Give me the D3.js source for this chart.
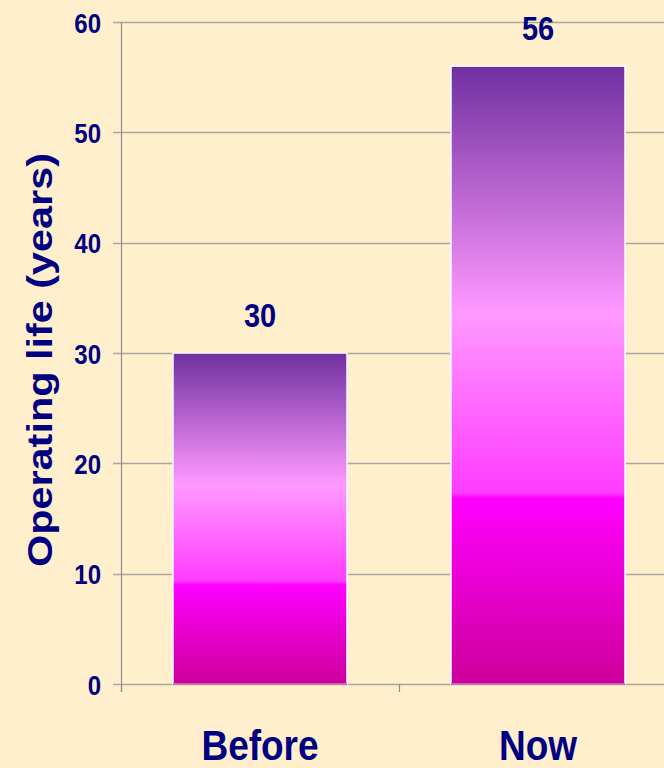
<!DOCTYPE html>
<html>
<head>
<meta charset="utf-8">
<script src="https://cdn.jsdelivr.net/npm/d3@7/dist/d3.min.js"></script>
<style>
  html, body { margin: 0; padding: 0; background: #FFEFCC; }
  svg { display: block; }
  text { font-family: "Liberation Sans", Arial, sans-serif; font-weight: bold; fill: #000080; }
</style>
</head>
<body>
<svg id="chart" width="664" height="768"></svg>
<script>
const categories = ["Before", "Now"];
const values = [30, 56];
const yTicks = [0, 10, 20, 30, 40, 50, 60];
const yTitle = "Operating life (years)";

const W = 664, H = 768;
const svg = d3.select("#chart");
svg.append("rect").attr("width", W).attr("height", H).attr("fill", "#FFEFCC");

const x = d3.scaleBand().domain(categories).range([121, 677]).padding(0);
const y = d3.scaleLinear().domain([0, 60]).range([684, 22]);
const sy = 1.16;

const defs = svg.append("defs");
const grad = defs.append("linearGradient").attr("id", "barGrad")
  .attr("x1", 0).attr("y1", 0).attr("x2", 0).attr("y2", 1);
[[0, "#7030A0"], [0.4, "#FF99FF"], [0.69, "#FF3CFF"], [0.70, "#FF00FF"], [1, "#CC0099"]]
  .forEach(([o, c]) => grad.append("stop").attr("offset", o).attr("stop-color", c));

// gridlines
svg.append("g").selectAll("line").data(yTicks).join("line")
  .attr("x1", 113).attr("x2", W)
  .attr("y1", d => Math.round(y(d)) + 0.5).attr("y2", d => Math.round(y(d)) + 0.5)
  .attr("stroke", "#ABA69C").attr("stroke-width", 1.5);

// y axis line
svg.append("line").attr("x1", 121.5).attr("x2", 121.5).attr("y1", y(60)).attr("y2", 692)
  .attr("stroke", "#8F8F8F").attr("stroke-width", 1.2);

// x ticks
svg.append("g").selectAll("line").data([121, 399, 677]).join("line")
  .attr("x1", d => d + 0.5).attr("x2", d => d + 0.5).attr("y1", y(0)).attr("y2", 692)
  .attr("stroke", "#8F8F8F").attr("stroke-width", 1.2);

// y tick labels
svg.append("g").selectAll("text").data(yTicks).join("text")
  .attr("transform", d => `translate(101,${y(d) + 10.5}) scale(1,${sy})`)
  .attr("text-anchor", "end").attr("font-size", 24)
  .text(d => d);

// bars
const bw = x.bandwidth() * 0.626;
const data = categories.map((c, i) => ({ c, v: values[i] }));
svg.append("g").selectAll("rect").data(data).join("rect")
  .attr("x", d => x(d.c) + x.bandwidth() / 2 - bw / 2)
  .attr("y", d => y(d.v))
  .attr("width", bw)
  .attr("height", d => y(0) - y(d.v))
  .attr("fill", "url(#barGrad)")
  .attr("stroke", "#FFFFFF").attr("stroke-width", 1.5);

svg.append("g").selectAll("line").data(data).join("line")
  .attr("x1", d => x(d.c) + x.bandwidth() / 2 - bw / 2)
  .attr("x2", d => x(d.c) + x.bandwidth() / 2 + bw / 2)
  .attr("y1", y(0)).attr("y2", y(0))
  .attr("stroke", "#C040A8").attr("stroke-width", 1.5);

// value labels
svg.append("g").selectAll("text").data(data).join("text")
  .attr("transform", d => `translate(${x(d.c) + x.bandwidth() / 2},${y(d.v) - 26}) scale(1,${sy})`)
  .attr("text-anchor", "middle").attr("font-size", 29)
  .text(d => d.v);

// category labels
svg.append("g").selectAll("text").data(categories).join("text")
  .attr("transform", d => `translate(${x(d) + x.bandwidth() / 2},760) scale(1,${sy})`)
  .attr("text-anchor", "middle").attr("font-size", 37)
  .text(d => d);

// y title
svg.append("text")
  .attr("transform", `translate(52,360) rotate(-90) scale(1.15,1)`)
  .attr("text-anchor", "middle").attr("font-size", 36)
  .text(yTitle);
</script>
</body>
</html>
